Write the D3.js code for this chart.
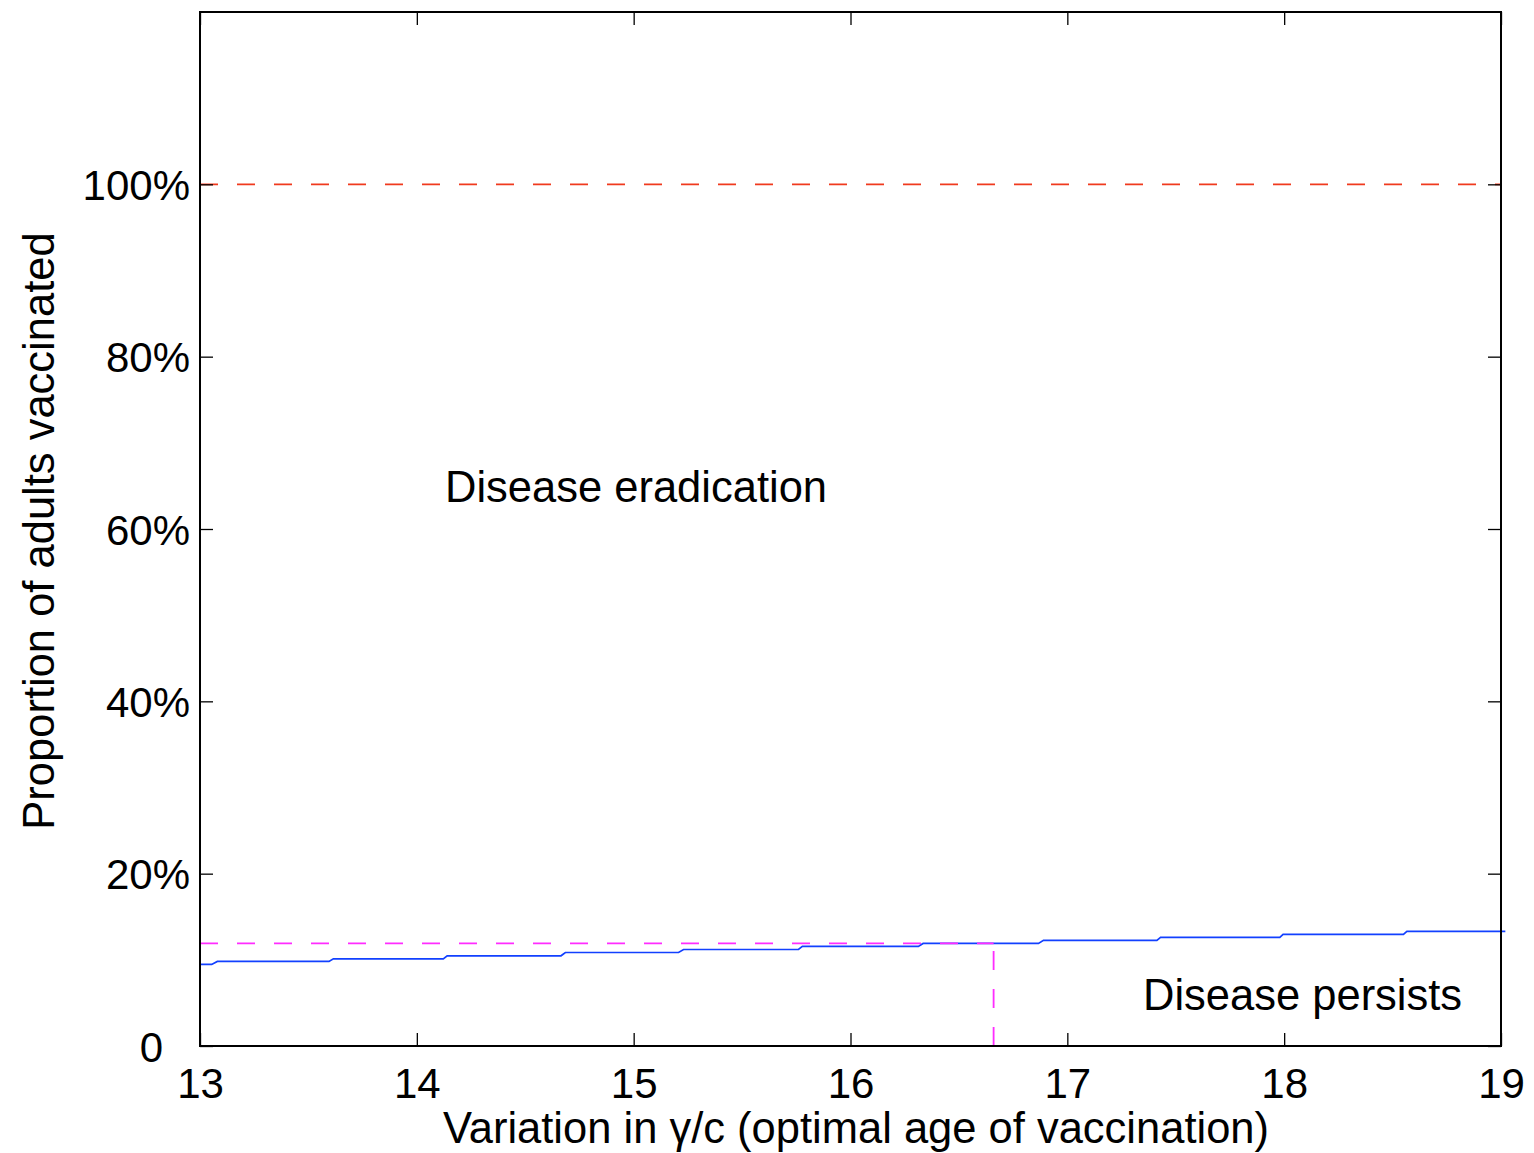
<!DOCTYPE html>
<html>
<head>
<meta charset="utf-8">
<script src="https://cdn.jsdelivr.net/npm/d3@7"></script>
<style>
  html, body { margin: 0; padding: 0; background: #fff; }
  svg { display: block; }
  text { font-family: "Liberation Sans", Arial, Helvetica, sans-serif; fill: #000; }
</style>
</head>
<body>
<svg id="chart" width="1534" height="1153"></svg>
<script>
// ---- data ----
const xTicks = [13, 14, 15, 16, 17, 18, 19];
const yTicks = [0, 0.2, 0.4, 0.6, 0.8, 1.0];
const yTickLabels = ["0", "20%", "40%", "60%", "80%", "100%"];

// threshold curve (blue step line)
const thresholdX = [13, 13.054, 13.08, 13.595, 13.615, 14.122, 14.14, 14.665, 14.685,
  15.207, 15.23, 15.76, 15.778, 16.313, 16.335, 16.867, 16.89, 17.413, 17.43,
  17.98, 17.995, 18.55, 18.566, 19.02];
const thresholdY = [0.0947, 0.0947, 0.0981, 0.0981, 0.1012, 0.1012, 0.1047, 0.1047, 0.1085,
  0.1085, 0.112, 0.112, 0.1156, 0.1156, 0.119, 0.119, 0.1226, 0.1226, 0.126,
  0.126, 0.1295, 0.1295, 0.133, 0.133];

const fullCoverage = 1.0;           // red dashed line
const optimalAge = 16.66;           // magenta vertical
const optimalThreshold = 0.119;     // magenta horizontal

const xLabel = "Variation in γ/c (optimal age of vaccination)";
const yLabel = "Proportion of adults vaccinated";
const regionLabels = ["Disease eradication", "Disease persists"];

// ---- layout ----
const svg = d3.select("#chart");
const L = 200, R = 1501, T = 12, B = 1046;
const x = d3.scaleLinear().domain([13, 19]).range([L, R]);
const y = d3.scaleLinear().domain([0, 1.2]).range([B, T]);

svg.append("rect").attr("width", 1534).attr("height", 1153).attr("fill", "#fff");

const line = d3.line().x(d => x(d[0])).y(d => y(d[1]));

// blue threshold curve
const pts = thresholdX.map((v, i) => [v, thresholdY[i]]);
svg.append("path").attr("d", line(pts))
  .attr("fill", "none").attr("stroke", "#1240ff").attr("stroke-width", 1.7);

// red dashed line at 100%
svg.append("path").attr("d", line([[13, fullCoverage], [19, fullCoverage]]))
  .attr("fill", "none").attr("stroke", "#f03a1e").attr("stroke-width", 1.8)
  .attr("stroke-dasharray", "18,19");

// magenta dashed lines
svg.append("path").attr("d", line([[13, optimalThreshold], [optimalAge, optimalThreshold]]))
  .attr("fill", "none").attr("stroke", "#ff2cff").attr("stroke-width", 1.8)
  .attr("stroke-dasharray", "18,19");
svg.append("path").attr("d", line([[optimalAge, 0], [optimalAge, optimalThreshold]]))
  .attr("fill", "none").attr("stroke", "#ff2cff").attr("stroke-width", 1.8)
  .attr("stroke-dasharray", "19,19");

// axes (inward ticks, mirrored)
const tickLen = 13;
const gBottom = svg.append("g").attr("transform", `translate(0,${B})`)
  .call(d3.axisBottom(x).tickValues(xTicks).tickSize(-tickLen).tickPadding(22).tickFormat(d3.format("d")));
const gTop = svg.append("g").attr("transform", `translate(0,${T})`)
  .call(d3.axisTop(x).tickValues(xTicks).tickSize(-tickLen).tickFormat(""));
const gLeft = svg.append("g").attr("transform", `translate(${L},0)`)
  .call(d3.axisLeft(y).tickValues(yTicks).tickSize(-tickLen).tickPadding(10)
    .tickFormat((d, i) => yTickLabels[i]));
const gRight = svg.append("g").attr("transform", `translate(${R},0)`)
  .call(d3.axisRight(y).tickValues(yTicks).tickSize(-tickLen).tickFormat(""));

[gBottom, gTop, gLeft, gRight].forEach(g => {
  g.select(".domain").remove();
  g.selectAll(".tick line").attr("stroke", "#000").attr("stroke-width", 1.3);
  g.selectAll("text").attr("font-size", 42).attr("font-family", '"Liberation Sans", Arial, sans-serif').attr("fill", "#000");
});
gLeft.selectAll(".tick text").attr("dy", "0.36em");
gLeft.selectAll(".tick").filter(d => d === 0).select("text").attr("x", -37).attr("dy", "0.36em");
gBottom.selectAll(".tick text").attr("dy", "0.71em");

// box
svg.append("rect").attr("x", L).attr("y", T).attr("width", R - L).attr("height", B - T)
  .attr("fill", "none").attr("stroke", "#000").attr("stroke-width", 2);

// axis titles
svg.append("text").attr("x", 856).attr("y", 1143).attr("text-anchor", "middle")
  .attr("font-size", 43.5).text(xLabel);
svg.append("text").attr("transform", `translate(54,${(T + B) / 2 + 2}) rotate(-90)`)
  .attr("text-anchor", "middle").attr("font-size", 43.5).text(yLabel);

// region labels
svg.append("text").attr("x", 445).attr("y", 502).attr("font-size", 43.5).text(regionLabels[0]);
svg.append("text").attr("x", 1143).attr("y", 1010).attr("font-size", 43.5).text(regionLabels[1]);
</script>
</body>
</html>
